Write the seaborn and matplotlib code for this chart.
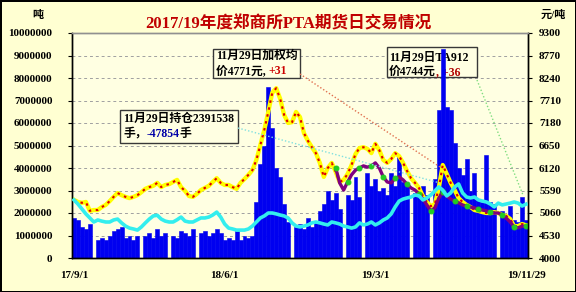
import numpy as np
import pandas as pd
import matplotlib
matplotlib.use("Agg")
import matplotlib.pyplot as plt
import seaborn as sns
from matplotlib.patches import Rectangle
from matplotlib.lines import Line2D

# ---------------- data ----------------
title = "2017/19年度郑商所PTA期货日交易情况"
x_tick_dates = ["2017-09-01", "2018-06-01", "2019-03-01", "2019-11-29"]
x_tick_labels = ["17/9/1", "18/6/1", "19/3/1", "19/11/29"]

# daily volume, sampled along the period (millions)
volume_m = [
    1.8, 1.7, 1.4, 1.3, 1.5, 0.0, 0.8, 0.9, 0.8, 1.0,
    1.2, 1.3, 1.4, 0.9, 1.0, 0.8, 1.0, 0.0, 1.0, 1.1,
    0.9, 1.3, 1.0, 1.1, 0.0, 1.0, 0.9, 1.2, 1.1, 1.0,
    1.3, 0.0, 1.1, 1.2, 1.0, 1.1, 1.3, 1.1, 0.8, 0.9,
    0.8, 1.2, 0.8, 1.0, 0.9, 1.0, 2.5, 4.2, 5.0, 7.6,
    5.8, 4.0, 3.6, 2.4, 1.6, 0.0, 1.4, 1.5, 1.3, 1.8,
    1.4, 1.6, 2.1, 2.4, 3.0, 2.6, 2.9, 2.2, 0.0, 2.8,
    2.6, 3.6, 2.7, 0.0, 3.8, 3.2, 3.5, 3.0, 3.1, 2.8,
    3.8, 3.2, 4.5, 3.4, 3.3, 0.0, 2.9, 2.7, 3.2, 2.8,
    0.0, 3.5, 6.6, 9.3, 6.7, 6.6, 5.1, 4.0, 3.7, 4.4,
    3.0, 3.8, 2.6, 2.5, 4.6, 2.5, 2.4, 0.0, 2.1, 1.9,
    2.3, 1.7, 1.6, 2.7, 1.7,
]
volume = [v * 1_000_000 for v in volume_m]

open_interest = [
    2580000, 2400000, 2180000, 1960000, 1780000, 1600000, 1690000, 1640000, 1600000, 1600000,
    1690000, 1730000, 1560000, 1420000, 1330000, 1290000, 1240000, 1380000, 1560000, 1730000,
    1870000, 1900000, 1730000, 1640000, 1600000, 1600000, 1700000, 1820000, 1640000, 1600000,
    1600000, 1690000, 1780000, 1780000, 1820000, 1910000, 2040000, 1820000, 1510000, 1330000,
    1290000, 1240000, 1240000, 1240000, 1290000, 1420000, 1600000, 1780000, 1870000, 2000000,
    2000000, 1960000, 1910000, 1870000, 1780000, 1560000, 1420000, 1380000, 1420000, 1470000,
    1560000, 1600000, 1560000, 1510000, 1470000, 1600000, 1560000, 1510000, 1420000, 1380000,
    1330000, 1380000, 1560000, 1470000, 1510000, 1600000, 1470000, 1560000, 1690000, 1780000,
    1960000, 2270000, 2530000, 2620000, 2670000, 2710000, 2800000, 2760000, 2580000, 2670000,
    2800000, 2980000, 3160000, 3020000, 2760000, 2890000, 3160000, 3290000, 2890000, 2710000,
    2670000, 2710000, 2580000, 2530000, 2490000, 2400000, 2270000, 2440000, 2360000, 2400000,
    2440000, 2490000, 2440000, 2310000, 2391538,
]

avg_price = [
    5370, 5320, 5300, 5320, 5110, 5130, 5130, 5200, 5250, 5340,
    5440, 5530, 5480, 5440, 5410, 5440, 5480, 5550, 5630, 5670,
    5700, 5770, 5670, 5720, 5740, 5790, 5840, 5670, 5580, 5460,
    5440, 5510, 5600, 5650, 5700, 5790, 5880, 5770, 5720, 5720,
    5670, 5630, 5770, 5860, 5960, 6070, 6310, 6660, 7020, 7440,
    7890, 8000, 7750, 7370, 7180, 7200, 7440, 7320, 6940, 6760,
    6610, 6470, 6240, 5910, 6120, 6240, 6030, 5790, 5840, 5980,
    6190, 6450, 6590, 6610, 6570, 6470, 6690, 6540, 6310, 6240,
    6330, 6470, 6400, 6240, 6050, 5880, 5770, 5650, 5460, 5320,
    5220, 5270, 5650, 6190, 5980, 5770, 5600, 5410, 5320, 5250,
    5200, 5130, 5110, 5080, 5060, 5060, 5080, 5060, 5010, 4990,
    4920, 4750, 4750, 4800, 4771,
]

# TA912 contract price (ends on the same last day)
ta912_price = [
    6120, 5770, 5600, 5790, 5960, 6070, 6120, 6170, 6140, 6170,
    6240, 6120, 5910, 5790, 5770, 5880, 5910, 5840, 5740, 5650,
    5600, 5510, 5390, 5250, 5110, 5180, 5410, 5550, 5460, 5390,
    5340, 5300, 5250, 5220, 5200, 5180, 5150, 5130, 5110, 5080,
    5060, 5060, 5010, 4940, 4850, 4730, 4710, 4750, 4744,
]

left_ticks = [0, 1000000, 2000000, 3000000, 4000000, 5000000,
              6000000, 7000000, 8000000, 9000000, 10000000]
right_ticks = [4000, 4530, 5060, 5590, 6120, 6650, 7180, 7710, 8240, 8770, 9300]

note_avg = [[("11月29日加权均", "black")],
            [("价4771元, ", "black"), ("+31", "#CC0000")]]
note_ta = [[("11月29日TA912", "black")],
           [("价4744元", "black"), (", +36", "#B00000")]]
note_oi = [[("11月29日持仓2391538", "black")],
           [("手，", "black"), ("-47854", "#0000A8"), ("手", "black")]]

# ---------------- style ----------------
plt.rcParams["font.family"] = ["Liberation Serif", "Noto Sans CJK SC", "DejaVu Sans"]
plt.rcParams["font.weight"] = "bold"

W, H = 576, 292
fig = plt.figure(figsize=(W / 100, H / 100), dpi=100)
fig.patch.set_facecolor("#FFFFD2")
fig.patch.set_edgecolor("black")
fig.patch.set_linewidth(2)

ax = fig.add_axes([72 / W, (H - 258) / H, 456 / W, 225 / H])
ax.set_facecolor("#FFFFE2")

n = len(avg_price)
df = pd.DataFrame({
    "i": np.arange(n),
    "vol": volume,
    "oi": open_interest,
    "avg": avg_price,
    "ta912": [np.nan] * (n - len(ta912_price)) + ta912_price,
})

# volume bars
sns.barplot(data=df, x="i", y="vol", native_scale=True, width=1.0,
            color="#0000F0", saturation=1, errorbar=None,
            linewidth=0.4, edgecolor="#0000F0", ax=ax)

# price lines on right axis
ax2 = ax.twinx()
sns.lineplot(data=df, x="i", y="avg", ax=ax2, color="#FFFF00",
             linewidth=3.1, estimator=None)
sns.lineplot(data=df, x="i", y="avg", ax=ax2, color="#E00000",
             linewidth=1.5, linestyle=(0, (1.2, 2.2)), estimator=None)
dft = df.dropna(subset=["ta912"])
sns.lineplot(data=dft, x="i", y="ta912", ax=ax2, color="#800080",
             linewidth=2.4, estimator=None, marker="o", markersize=3.5,
             markerfacecolor="#22CC22", markeredgecolor="#22CC22", markevery=3)

# open interest line on top
ax3 = ax.twinx()
sns.lineplot(data=df, x="i", y="oi", ax=ax3, color="#33EEEE",
             linewidth=2.6, estimator=None)

# ---------------- axes ----------------
d0 = pd.Timestamp(x_tick_dates[0])
d1 = pd.Timestamp(x_tick_dates[-1])
tick_pos = [(pd.Timestamp(d) - d0) / (d1 - d0) * (n - 1) for d in x_tick_dates]

for a in (ax, ax2, ax3):
    a.set_xlim(-0.5, n - 0.5)
    a.set_xlabel("")
    a.set_ylabel("")

ax.set_ylim(0, 10000000)
ax.set_yticks(left_ticks)
ax.set_yticklabels([str(v) for v in left_ticks])
ax.set_xticks(tick_pos)
ax.set_xticklabels(x_tick_labels)
ax.tick_params(axis="x", length=0, pad=9, labelsize=8)
ax.tick_params(axis="y", direction="out", length=3, pad=11, labelsize=8)
ax.grid(axis="y", color="#A0A0A0", linestyle=(0, (3, 3)), linewidth=0.7)
ax.grid(axis="x", visible=False)
ax.set_axisbelow(True)

ax2.set_ylim(4000, 9300)
ax2.set_yticks(right_ticks)
ax2.set_yticklabels([str(v) for v in right_ticks])
ax2.tick_params(axis="y", direction="out", length=3, pad=5, labelsize=8)

ax3.set_ylim(0, 10000000)
ax3.set_yticks([])
for s in ax3.spines.values():
    s.set_visible(False)

for a in (ax, ax2):
    a.spines["left"].set_color("black")
    a.spines["bottom"].set_color("black")
    a.spines["right"].set_color("black")
    a.spines["top"].set_color("#909090")
    for s in a.spines.values():
        s.set_linewidth(1.0)

# ---------------- texts ----------------
fig.text(0.5, 1 - 24 / H, title, color="#C00000", fontsize=12,
         ha="center", va="center")
fig.text(38 / W, 1 - 15 / H, "吨", fontsize=8, ha="center", va="center")
fig.text(553 / W, 1 - 15 / H, "元/吨", fontsize=8, ha="center", va="center")

renderer = fig.canvas.get_renderer()


def rich_line(x_px, y_px, segments, size=8.5):
    x = x_px
    for txt, col in segments:
        t = ax.text(x / W, 1 - y_px / H, txt, color=col, fontsize=size,
                    ha="left", va="center", zorder=0.8,
                    transform=fig.transFigure, clip_on=False)
        bb = t.get_window_extent(renderer=renderer)
        x = bb.x1


def note_box(x0, y0, x1, y1, lines, tx, ty, dy):
    ax.add_patch(Rectangle((x0 / W, 1 - y1 / H), (x1 - x0) / W, (y1 - y0) / H,
                           transform=fig.transFigure, facecolor="#FFFFE2",
                           edgecolor="#383838", linewidth=1.0, zorder=0.7,
                           clip_on=False))
    for k, segs in enumerate(lines):
        rich_line(tx, ty + k * dy, segs)


def leader(p0, p1, color):
    fig.add_artist(Line2D([p0[0] / W, p1[0] / W], [1 - p0[1] / H, 1 - p1[1] / H],
                          transform=fig.transFigure, color=color,
                          linestyle=(0, (1, 1.5)), linewidth=1.0, zorder=5))


leader((300, 74), (440, 167), "#E07050")
leader((238, 128), (440, 183), "#80E0E0")
leader((477, 80), (523, 195), "#80DD80")

note_box(213, 49, 300, 78, note_avg, 216, 56, 15)
note_box(387, 47, 477, 77, note_ta, 389, 58, 14)
note_box(120, 110, 238, 143, note_oi, 123, 119, 15)

fig.savefig("out.png", dpi=100, facecolor=fig.get_facecolor(),
            edgecolor=fig.get_edgecolor())
